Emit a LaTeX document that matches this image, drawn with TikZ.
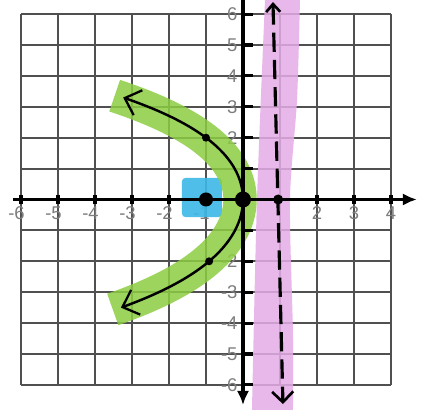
\documentclass[tikz,border=0pt]{standalone}
\usepackage{fontspec}
\setmainfont{Liberation Sans}
\usetikzlibrary{arrows.meta}
\definecolor{gridc}{RGB}{80,80,80}
\definecolor{lblc}{RGB}{125,125,125}
\definecolor{hlgreen}{RGB}{140,205,65}
\definecolor{hlpink}{RGB}{230,172,232}
\definecolor{hlblue}{RGB}{60,185,232}
\begin{document}
\begin{tikzpicture}[x=0.74cm,y=0.618cm,
  declare function={px(\t)=-0.2158*\t*\t-0.00531*\t*\t*\t-0.005894*\t*\t*\t*\t;},
  gridline/.style={draw=gridc,line width=1.1pt},
  axisline/.style={draw=black,line width=2pt},
  tickmark/.style={draw=black,line width=1.8pt},
  lbl/.style={text=lblc,font=\fontsize{10.5}{10.5}\selectfont,inner sep=0pt},
  curveline/.style={draw=black,line width=1.4pt},
  barb/.tip={Straight Barb[length=8pt,width=15pt,line width=1.3pt]},
  topbarb/.tip={Straight Barb[length=4.5pt,width=8pt,line width=1.5pt]},
  botbarb/.tip={Straight Barb[length=6pt,width=12pt,line width=1.5pt]},
  dashline/.style={draw=black,line width=1.8pt,dash pattern=on 11pt off 4.5pt},
  dot/.style={circle,fill=black,inner sep=0pt}]
\useasboundingbox (-6.5676,-6.8123) rectangle (4.9189,6.4563);
\fill[white] (-6.5676,-6.8123) rectangle (4.9189,6.4563);
% grid
\foreach \x in {-6,...,4} \draw[gridline] (\x,-6) -- (\x,6);
\foreach \y in {-6,...,6} \draw[gridline] (-6,\y) -- (4,\y);
% x labels
\foreach \x in {-6,...,-1} \node[lbl] (xl\x) at (\x-0.12,-0.45) {-\the\numexpr-\x\relax};
\foreach \x in {2,3,4} \node[lbl] (xl\x) at (\x,-0.45) {\x};
% y labels
\foreach \y in {2,...,6} \node[lbl,anchor=east] (yl\y) at (-0.14,\y) {\y};
\foreach \y in {-6,...,-2} \node[lbl,anchor=east] (yl\y) at (-0.14,\y) {-\the\numexpr-\y\relax};
% highlights
\fill[hlpink,opacity=0.85] plot[smooth] coordinates {(0.595,6.46) (0.378,0) (0.243,-6.81)}
  -- plot[smooth] coordinates {(1.35,-6.81) (1.35,-4.32) (1.27,0) (1.46,3.22) (1.54,6.46)} -- cycle;
\fill[hlblue,opacity=0.9,rounded corners=2pt] (-1.65,-0.57) rectangle (-0.57,0.70);
\draw[hlgreen,opacity=0.85,line width=19pt] plot[domain=3.36:-3.56,samples=80,variable=\t] ({px(\t)-0.08},\t);
% axes
\coordinate (xa) at (-6.22,0);
\coordinate (xb) at (4.70,0);
\coordinate (ya) at (0,6.45);
\coordinate (yb) at (0,-6.65);
\draw[axisline,-{Latex[length=8pt,width=7pt]}] (xa) -- (xb);
\draw[axisline,-{Latex[length=8pt,width=7pt]}] (ya) -- (yb);
\foreach \x in {-6,...,-1,2,3,4} \draw[tickmark] (\x,-0.16) -- (\x,0.16);
\foreach \y in {-6,...,-1,1,2,...,6} \draw[tickmark] (-0.05,\y) -- (0.26,\y);
% directrix
\coordinate (dt) at (0.81,6.39);
\coordinate (db) at (1.08,-6.62);
\draw[dashline,topbarb-botbarb] (dt) -- (db);
% points
\node[dot,minimum size=0.32cm] (v) at (0,0) {};
\node[dot,minimum size=0.28cm] (fo) at (-1,0) {};
\node[dot,minimum size=0.16cm] (p1) at (-1,2) {};
\node[dot,minimum size=0.16cm] (p2) at ({px(-2)},-2) {};
\node[dot,minimum size=0.2cm] (dp) at (0.95,0) {};
% parabola
\draw[curveline,barb-barb] plot[domain=3.3:-3.5,samples=80,variable=\t] ({px(\t)},\t);
\end{tikzpicture}
\end{document}
